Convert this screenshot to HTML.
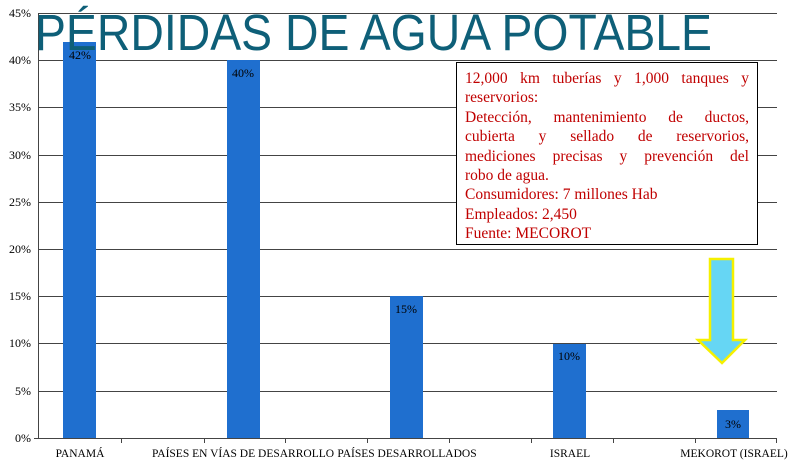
<!DOCTYPE html>
<html><head><meta charset="utf-8"><style>html,body{margin:0;padding:0;background:#fff}svg{display:block}
#box{position:absolute;left:456px;top:62px;width:284px;height:169px;border:1px solid #000;background:#fff;padding:6px 8px 6px 8px;font-family:"Liberation Serif",serif;font-size:15.5px;line-height:19.4px;color:#c00000;}
#box div{white-space:nowrap;height:19.4px}
#box .j{text-align:justify;text-align-last:justify;white-space:normal}
</style></head>
<body>
<div style="position:relative;width:800px;height:462px;overflow:hidden">
<svg width="800" height="462" viewBox="0 0 800 462" xmlns="http://www.w3.org/2000/svg" font-family="Liberation Serif, serif" style="position:absolute;left:0;top:0">
<rect width="800" height="462" fill="#fff"/>
<g stroke="#444" stroke-width="1">
<line x1="38" y1="13.5" x2="777" y2="13.5"/>
<line x1="38" y1="60.5" x2="777" y2="60.5"/>
<line x1="38" y1="107.5" x2="777" y2="107.5"/>
<line x1="38" y1="155.5" x2="777" y2="155.5"/>
<line x1="38" y1="202.5" x2="777" y2="202.5"/>
<line x1="38" y1="249.5" x2="777" y2="249.5"/>
<line x1="38" y1="296.5" x2="777" y2="296.5"/>
<line x1="38" y1="343.5" x2="777" y2="343.5"/>
<line x1="38" y1="391.5" x2="777" y2="391.5"/>
<line x1="34" y1="438.5" x2="777" y2="438.5"/>
<line x1="38.5" y1="13" x2="38.5" y2="438"/>
<line x1="121.5" y1="438" x2="121.5" y2="443"/><line x1="204.5" y1="438" x2="204.5" y2="443"/>
<line x1="285.5" y1="438" x2="285.5" y2="443"/><line x1="367.5" y1="438" x2="367.5" y2="443"/>
<line x1="449.5" y1="438" x2="449.5" y2="443"/><line x1="531.5" y1="438" x2="531.5" y2="443"/>
<line x1="613.5" y1="438" x2="613.5" y2="443"/><line x1="695.5" y1="438" x2="695.5" y2="443"/>
<line x1="776.5" y1="438" x2="776.5" y2="443"/>
</g>
<g font-size="12" fill="#000" text-anchor="end">
<text x="31" y="17">45%</text><text x="31" y="64">40%</text><text x="31" y="111">35%</text>
<text x="31" y="159">30%</text><text x="31" y="206">25%</text><text x="31" y="253">20%</text>
<text x="31" y="300">15%</text><text x="31" y="347">10%</text><text x="31" y="395">5%</text>
<text x="31" y="442">0%</text>
</g>
<g fill="#1f6fcf">
<rect x="63" y="42" width="33" height="396"/>
<rect x="227" y="60" width="33" height="378"/>
<rect x="390" y="296" width="33" height="142"/>
<rect x="553" y="344" width="33" height="94"/>
<rect x="717" y="410" width="32" height="28"/>
</g>
<g font-size="12" fill="#000" text-anchor="middle">
<text x="80" y="59">42%</text><text x="243" y="77">40%</text><text x="406" y="313">15%</text>
<text x="569" y="360">10%</text><text x="733" y="428">3%</text>
</g>
<g font-size="11.5" fill="#000" text-anchor="middle">
<text x="80" y="457">PANAMÁ</text>
<text x="243" y="457">PAÍSES EN VÍAS DE DESARROLLO</text>
<text x="407" y="457">PAÍSES DESARROLLADOS</text>
<text x="570" y="457">ISRAEL</text>
<text x="734" y="457">MEKOROT (ISRAEL)</text>
</g>
<text x="35" y="50" font-family="Liberation Sans, sans-serif" font-size="51" fill="#0e5f78" textLength="677" lengthAdjust="spacingAndGlyphs">PÉRDIDAS DE AGUA POTABLE</text>
<polygon points="710,259 733,259 733,340 745,340 722,363 698,340 710,340" fill="#66d6f4" stroke="#f5f000" stroke-width="2.5"/>
</svg>
<div id="box">
<div class="j">12,000 km tuberías y 1,000 tanques y</div>
<div>reservorios:</div>
<div class="j">Detección, mantenimiento de ductos,</div>
<div class="j">cubierta y sellado de reservorios,</div>
<div class="j">mediciones precisas y prevención del</div>
<div>robo de agua.</div>
<div>Consumidores: 7 millones Hab</div>
<div>Empleados: 2,450</div>
<div>Fuente: MECOROT</div>
</div>
</div>
</body></html>
